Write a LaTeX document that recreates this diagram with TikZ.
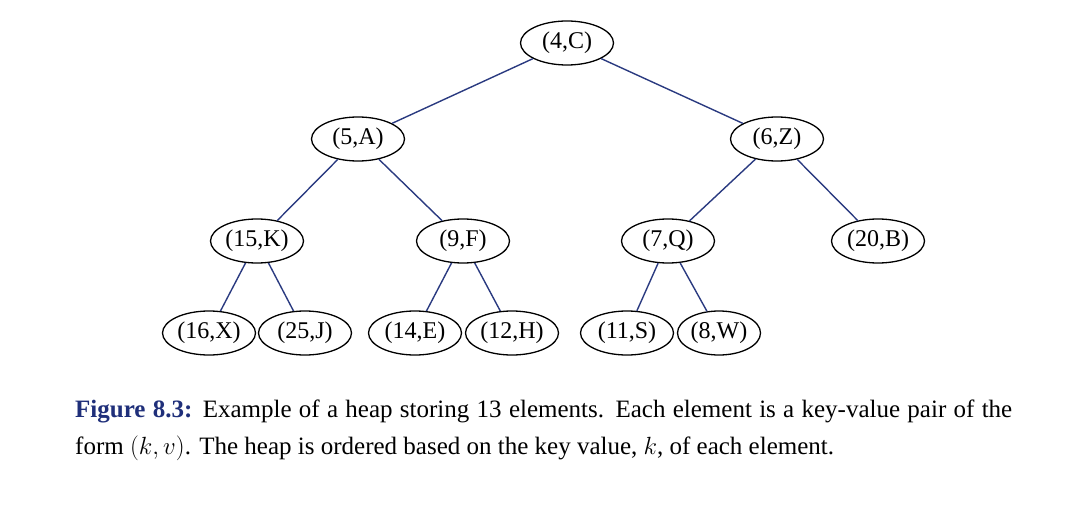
\documentclass[tikz,border=0pt]{standalone}
\usepackage{fontspec}
\setmainfont{Liberation Serif}
\usetikzlibrary{shapes.geometric}
\definecolor{edge}{HTML}{2A3A80}
\definecolor{figblue}{HTML}{1F2F7A}
\begin{document}
\begin{tikzpicture}[x=1pt,y=-1pt,
  hn/.style={ellipse,draw,line width=1.3pt,minimum width=93pt,minimum height=44pt,inner sep=0pt,font=\fontsize{24}{26}\selectfont},
  e/.style={draw=edge,line width=1.4pt}]
\useasboundingbox (0,0) rectangle (1073,513);
\node[hn] (c) at (567,43) {(4,C)};
\node[hn] (a) at (358,139) {(5,A)};
\node[hn] (z) at (777,139) {(6,Z)};
\node[hn] (k) at (257,241) {(15,K)};
\node[hn] (f) at (463,241) {(9,F)};
\node[hn] (q) at (668,241) {(7,Q)};
\node[hn] (b) at (878,241) {(20,B)};
\node[hn] (x) at (209,333) {(16,X)};
\node[hn] (j) at (305,333) {(25,J)};
\node[hn] (ee) at (415,333) {(14,E)};
\node[hn] (h) at (512,333) {(12,H)};
\node[hn] (s) at (627,333) {(11,S)};
\node[hn,minimum width=83pt] (w) at (719,333) {(8,W)};
\draw[e] (c)--(a); \draw[e] (c)--(z);
\draw[e] (a)--(k); \draw[e] (a)--(f);
\draw[e] (z)--(q); \draw[e] (z)--(b);
\draw[e] (k)--(x); \draw[e] (k)--(j);
\draw[e] (f)--(ee); \draw[e] (f)--(h);
\draw[e] (q)--(s); \draw[e] (q)--(w);
\node[anchor=north west,text width=937pt,align=justify,inner sep=0pt,
  font=\fontsize{25}{36.5}\selectfont] (cap) at (75,400)
 {\textcolor{figblue}{\textbf{Figure 8.3:}} Example of a heap storing 13 elements. Each element is a key-value pair of the form $(k,v)$. The heap is ordered based on the key value, $k$, of each element.};
\end{tikzpicture}
\end{document}
